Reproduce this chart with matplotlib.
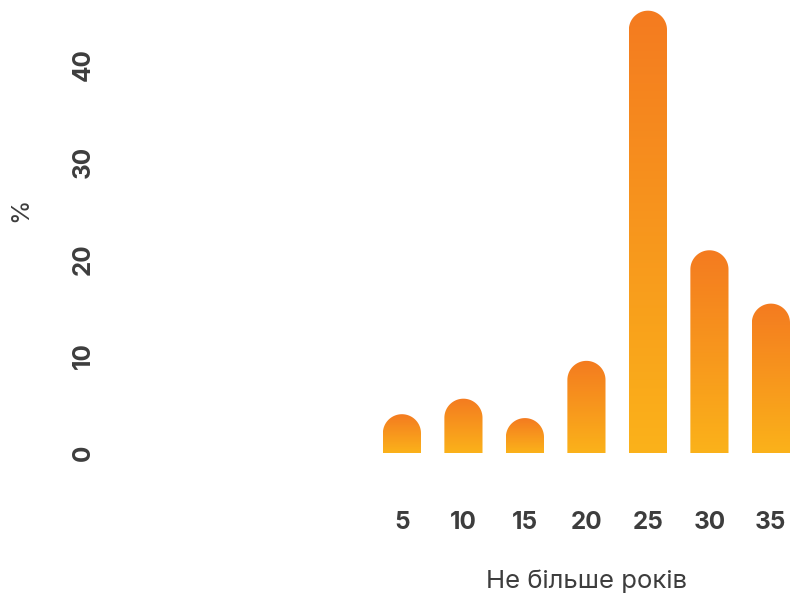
import numpy as np
import matplotlib.pyplot as plt
from matplotlib.colors import LinearSegmentedColormap
from matplotlib.path import Path
from matplotlib.patches import PathPatch

plt.rcParams['font.family'] = ['Inter', 'DejaVu Sans']

# дані
years = [5, 10, 15, 20, 25, 30, 35]
percent = [4.0, 5.6, 3.6, 9.5, 45.6, 20.9, 15.4]
yticks = [0, 10, 20, 30, 40]

text_color = '#3d3d3d'
cmap = LinearSegmentedColormap.from_list('grad', ['#fbb21a', '#f47b20'])

W, H = 790, 598
fig = plt.figure(figsize=(W / 100, H / 100), dpi=100)
ax = fig.add_axes([100 / W, (H - 453) / H, 690 / W, 453 / H])

bar_w = 3.1
ax.set_xlim(36.55 - 690 / 12.3, 36.55)
ax.set_ylim(0, 453 / 9.7)

# співвідношення пікселів до одиниць, щоб верх був круглим
fig.canvas.draw()
p0 = ax.transData.transform((0, 0))
p1 = ax.transData.transform((1, 1))
px_x, px_y = p1 - p0
rx = bar_w / 2
ry = rx * px_x / px_y

grad = np.linspace(0, 1, 256).reshape(-1, 1)
t = np.linspace(np.pi, 0, 40)
for x, h in zip(years, percent):
    left, right = x - rx, x + rx
    top = max(h - ry, 0)
    verts = [(left, 0), (left, top)]
    verts += list(zip(x + rx * np.cos(t), top + ry * np.sin(t)))
    verts += [(right, top), (right, 0), (left, 0)]
    codes = [Path.MOVETO] + [Path.LINETO] * (len(verts) - 2) + [Path.CLOSEPOLY]
    patch = PathPatch(Path(verts, codes), facecolor='none', edgecolor='none')
    ax.add_patch(patch)
    im = ax.imshow(grad, cmap=cmap, origin='lower', aspect='auto',
                   extent=(left, right, 0, h), interpolation='bilinear')
    im.set_clip_path(patch)

ax.set_xlim(36.55 - 690 / 12.3, 36.55)
ax.set_ylim(0, 453 / 9.7)

ax.set_xticks(years)
ax.set_xticklabels([str(v) for v in years])
ax.set_yticks(yticks)
ax.set_yticklabels([str(v) for v in yticks])
ax.tick_params(length=0, labelsize=17.5, labelcolor=text_color)
ax.tick_params(axis='x', pad=42)
ax.tick_params(axis='y', pad=4)
for lab in ax.get_xticklabels() + ax.get_yticklabels():
    lab.set_fontweight('bold')
plt.setp(ax.get_yticklabels(), rotation=90, va='center')

for s in ax.spines.values():
    s.set_visible(False)

fig.text(586 / W, 1 - 581 / H, 'Не більше років', ha='center', va='center',
         fontsize=18.5, color=text_color)
fig.text(21 / W, 1 - 210 / H, '%', ha='center', va='center', rotation=90,
         fontsize=18, color=text_color)

fig.savefig('out.png', dpi=100)
